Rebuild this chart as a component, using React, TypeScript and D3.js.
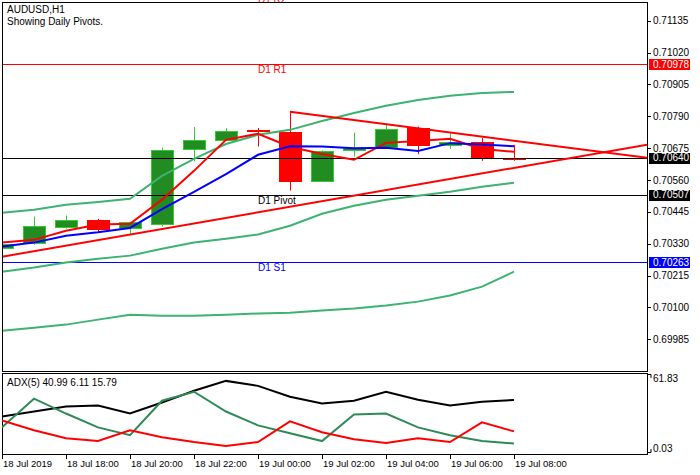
import React from "react";
import * as d3 from "d3";

// H1 bars, 18 Jul 16:00 .. 19 Jul 08:00
const candleTimes = [
  "18 Jul 16:00", "18 Jul 17:00", "18 Jul 18:00", "18 Jul 19:00", "18 Jul 20:00",
  "18 Jul 21:00", "18 Jul 22:00", "18 Jul 23:00", "19 Jul 00:00", "19 Jul 01:00",
  "19 Jul 02:00", "19 Jul 03:00", "19 Jul 04:00", "19 Jul 05:00", "19 Jul 06:00",
  "19 Jul 07:00", "19 Jul 08:00",
];
const open = [0.70315, 0.70335, 0.70392, 0.70417, 0.70387, 0.70402, 0.70672, 0.70705, 0.70741, 0.70734, 0.70557, 0.70666, 0.70677, 0.70747, 0.70687, 0.70698, 0.70641];
const high = [0.70336, 0.70428, 0.70432, 0.70420, 0.70409, 0.70677, 0.70751, 0.70747, 0.70748, 0.70806, 0.70667, 0.70731, 0.70761, 0.70753, 0.70729, 0.70711, 0.70687];
const low = [0.70310, 0.70326, 0.70384, 0.70371, 0.70362, 0.70392, 0.70627, 0.70702, 0.70681, 0.70522, 0.70555, 0.70645, 0.70675, 0.70653, 0.70672, 0.70629, 0.70629];
const close = [0.70330, 0.70395, 0.70417, 0.70385, 0.70408, 0.70669, 0.70705, 0.70737, 0.70737, 0.70558, 0.70665, 0.70675, 0.70743, 0.70684, 0.70697, 0.70643, 0.70640];

// moving averages and bands
const maFast = [0.70334, 0.70344, 0.70377, 0.70399, 0.70402, 0.70489, 0.70593, 0.70705, 0.70727, 0.70680, 0.70654, 0.70633, 0.70694, 0.70701, 0.70709, 0.70672, 0.70662];
const maSlow = [0.70320, 0.70334, 0.70359, 0.70371, 0.70387, 0.70455, 0.70517, 0.70581, 0.70651, 0.70682, 0.70681, 0.70675, 0.70676, 0.70665, 0.70693, 0.70688, 0.70682];
const bandUpper = [0.70442, 0.70453, 0.70471, 0.70481, 0.70492, 0.70575, 0.70636, 0.70690, 0.70723, 0.70741, 0.70773, 0.70802, 0.70828, 0.70849, 0.70864, 0.70874, 0.70878];
const bandMid = [0.70229, 0.70244, 0.70262, 0.70276, 0.70287, 0.70312, 0.70334, 0.70348, 0.70363, 0.70395, 0.70438, 0.70467, 0.70489, 0.70503, 0.70518, 0.70536, 0.70550];
const bandLower = [0.70016, 0.70027, 0.70038, 0.70056, 0.70074, 0.70070, 0.70070, 0.70074, 0.70078, 0.70081, 0.70089, 0.70096, 0.70107, 0.70121, 0.70143, 0.70175, 0.70229];

// trend lines (bar index, price)
const trendLowerBars = [0, 20.16];
const trendLowerPrices = [0.70283, 0.70687];
const trendUpperBars = [9, 20.16];
const trendUpperPrices = [0.70806, 0.70640];

// daily pivots
const pivotNames = ["D1 R2", "D1 R1", "D1 Pivot", "D1 S1"];
const pivotValues = [0.71233, 0.70978, 0.70507, 0.70263];
const currentPrice = 0.70640;

// ADX(5)
const adxMain = [27.7, 31.7, 35.7, 36.5, 30.1, 38.9, 48.4, 56.3, 52.3, 43.6, 38.1, 40.4, 47.6, 41.2, 36.5, 39.6, 40.99];
const plusDI = [19.0, 42.0, 30.1, 19.0, 12.7, 40.4, 47.6, 31.7, 20.6, 14.3, 8.0, 29.3, 30.1, 19.0, 12.7, 8.0, 6.11];
const minusDI = [24.6, 16.7, 10.3, 8.0, 16.7, 11.1, 7.2, 4.0, 7.2, 23.8, 15.1, 9.5, 6.4, 10.3, 7.2, 23.0, 15.79];

// axes
const priceTicks = [0.71135, 0.71020, 0.70905, 0.70790, 0.70675, 0.70560, 0.70445, 0.70330, 0.70215, 0.70100, 0.69985];
const timeTickBars = [0, 2, 4, 6, 8, 10, 12, 14, 16];
const timeTickLabels = ["18 Jul 2019", "18 Jul 18:00", "18 Jul 20:00", "18 Jul 22:00", "19 Jul 00:00", "19 Jul 02:00", "19 Jul 04:00", "19 Jul 06:00", "19 Jul 08:00"];
const adxTicks = [61.83, 0.03];

const FONT = "Tahoma, 'Liberation Sans', Arial, sans-serif";

const App: React.FC = () => {
  const width = 700;
  const height = 475;
  const left = 2;
  const right = 647;
  const mainTop = 2;
  const mainBottom = 371;
  const subTop = 373;
  const subBottom = 454;

  const x = d3.scaleLinear().domain([0, candleTimes.length - 1]).range([2, 514]);
  const y = d3.scaleLinear().domain([0.69985, 0.71135]).range([339.3, 20.7]);
  const ya = d3.scaleLinear().domain([0.03, 61.83]).range([451, 374]);

  const priceLine = (vals: number[]) =>
    d3.line<number>().x((_, i) => x(i)).y((d) => y(d))(vals) || "";
  const adxLine = (vals: number[]) =>
    d3.line<number>().x((_, i) => x(i)).y((d) => ya(d))(vals) || "";
  const trend = (bars: number[], prices: number[]) =>
    d3.line<number>().x((d) => x(d)).y((_, i) => y(prices[i]))(bars) || "";

  const pivotColors = ["#ff0000", "#ff0000", "#000000", "#0000ff"];
  const boxes = [
    { v: pivotValues[1], c: "#ff0000" },
    { v: currentPrice, c: "#000000" },
    { v: pivotValues[2], c: "#000000" },
    { v: pivotValues[3], c: "#0000ff" },
  ];

  return (
    <svg
      width={width}
      height={height}
      style={{ position: "absolute", left: 0, top: 0, background: "#fff" }}
      fontFamily={FONT}
    >
      <defs>
        <clipPath id="mainClip">
          <rect x={left} y={mainTop} width={right - left} height={mainBottom - mainTop} />
        </clipPath>
        <clipPath id="subClip">
          <rect x={left} y={subTop} width={right - left} height={subBottom - subTop} />
        </clipPath>
      </defs>
      <rect x={0} y={0} width={width} height={height} fill="#fff" />

      <g clipPath="url(#mainClip)">
        {/* candles */}
        {candleTimes.map((t, i) => {
          const cx = Math.round(x(i)) + 0.5;
          const bull = close[i] > open[i];
          const yo = y(open[i]);
          const yc = y(close[i]);
          const top = Math.round(Math.min(yo, yc));
          const h = Math.max(1, Math.round(Math.abs(yo - yc)));
          const wick = bull ? "#32cd32" : "#ff0000";
          return (
            <g key={t}>
              <line x1={cx} x2={cx} y1={y(high[i])} y2={y(low[i])} stroke={wick} strokeWidth={1} />
              <rect
                x={cx - 11}
                y={top + 0.5}
                width={22}
                height={h}
                fill={bull ? "#228b22" : "#ff0000"}
                stroke={bull ? "#32cd32" : "#ff0000"}
                strokeWidth={1}
              />
            </g>
          );
        })}

        {/* pivot levels */}
        {pivotValues.map((v, i) => (
          <g key={pivotNames[i]}>
            <line x1={left} x2={right} y1={Math.round(y(v)) + 0.5} y2={Math.round(y(v)) + 0.5} stroke={pivotColors[i]} strokeWidth={1} />
          </g>
        ))}
        <line x1={left} x2={right} y1={Math.round(y(currentPrice)) + 0.5} y2={Math.round(y(currentPrice)) + 0.5} stroke="#000" strokeWidth={1} />

        {/* bands */}
        <path d={priceLine(bandUpper)} fill="none" stroke="#3cb371" strokeWidth={2} />
        <path d={priceLine(bandMid)} fill="none" stroke="#3cb371" strokeWidth={2} />
        <path d={priceLine(bandLower)} fill="none" stroke="#3cb371" strokeWidth={2} />

        {/* trend lines */}
        <path d={trend(trendLowerBars, trendLowerPrices)} fill="none" stroke="#ff0000" strokeWidth={2} />
        <path d={trend(trendUpperBars, trendUpperPrices)} fill="none" stroke="#ff0000" strokeWidth={2} />

        {/* moving averages */}
        <path d={priceLine(maFast)} fill="none" stroke="#ff0000" strokeWidth={2} />
        <path d={priceLine(maSlow)} fill="none" stroke="#0000ff" strokeWidth={2} />
      </g>

      {/* pivot labels */}
      {pivotValues.map((v, i) => (
        <text key={"l" + i} x={258} y={y(v) + 9} fontSize={10} fill={pivotColors[i]}>
          {pivotNames[i]}
        </text>
      ))}

      <text x={7} y={13} fontSize={10} fill="#000">AUDUSD,H1</text>
      <text x={7} y={25} fontSize={10} fill="#000">Showing Daily Pivots.</text>

      {/* frames */}
      <rect x={left + 0.5} y={mainTop + 0.5} width={right - left} height={mainBottom - mainTop} fill="none" stroke="#000" />
      <rect x={left + 0.5} y={subTop + 0.5} width={right - left} height={subBottom - subTop} fill="none" stroke="#000" />

      {/* price axis */}
      {priceTicks.map((v) => (
        <g key={v}>
          <line x1={right + 0.5} x2={right + 4} y1={Math.round(y(v)) + 0.5} y2={Math.round(y(v)) + 0.5} stroke="#000" />
          <text x={653} y={y(v)} dy="0.35em" fontSize={10} fill="#000">{v.toFixed(5)}</text>
        </g>
      ))}
      {boxes.map((b, i) => (
        <g key={"b" + i}>
          <rect x={649} y={Math.round(y(b.v)) - 5} width={41} height={11} fill={b.c} />
          <text x={653} y={y(b.v)} dy="0.35em" fontSize={10} fill="#fff">{b.v.toFixed(5)}</text>
        </g>
      ))}

      {/* ADX panel */}
      <g clipPath="url(#subClip)">
        <path d={adxLine(adxMain)} fill="none" stroke="#000" strokeWidth={2} />
        <path d={adxLine(plusDI)} fill="none" stroke="#2e8b57" strokeWidth={2} />
        <path d={adxLine(minusDI)} fill="none" stroke="#ff0000" strokeWidth={2} />
      </g>
      <text x={7} y={386} fontSize={10} fill="#000">
        {`ADX(5) ${adxMain[adxMain.length - 1].toFixed(2)} ${plusDI[plusDI.length - 1].toFixed(2)} ${minusDI[minusDI.length - 1].toFixed(2)}`}
      </text>
      <path d={`M${right},${subTop + 1.5}H${right + 4}V${subTop + 5}`} fill="none" stroke="#000" />
      <path d={`M${right},${subBottom - 1.5}H${right + 4}V${subBottom - 5}`} fill="none" stroke="#000" />
      <text x={653} y={382} fontSize={10} fill="#000">{adxTicks[0].toFixed(2)}</text>
      <text x={653} y={452} fontSize={10} fill="#000">{adxTicks[1].toFixed(2)}</text>

      {/* time axis */}
      {timeTickBars.map((b, i) => (
        <g key={b}>
          <line x1={Math.round(x(b)) + 0.5} x2={Math.round(x(b)) + 0.5} y1={subBottom} y2={subBottom + 5} stroke="#000" />
          <text x={x(b) + 1} y={467} fontSize={9.5} fill="#000">{timeTickLabels[i]}</text>
        </g>
      ))}
    </svg>
  );
};

export default App;
